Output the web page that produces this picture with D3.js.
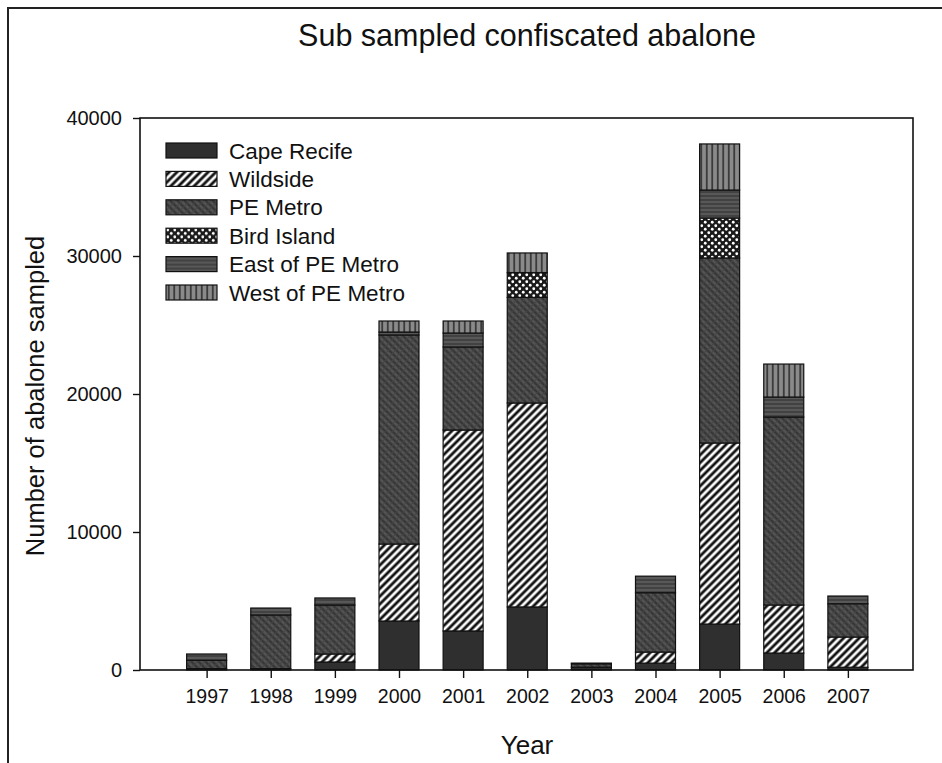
<!DOCTYPE html>
<html>
<head>
<meta charset="utf-8">
<script src="https://cdn.jsdelivr.net/npm/d3@7"></script>
<style>
  body { margin: 0; background: #fff; }
  text { font-family: "Liberation Sans", Arial, sans-serif; fill: #111; }
</style>
</head>
<body>
<div id="chart"></div>
<script>
// ===== DATA =====
const years = [1997, 1998, 1999, 2000, 2001, 2002, 2003, 2004, 2005, 2006, 2007];
const capeRecife = [100, 100, 580, 3550, 2830, 4570, 200, 500, 3330, 1230, 200];
const wildside   = [0, 0, 580, 5580, 14560, 14780, 0, 800, 13120, 3480, 2190];
const peMetro    = [600, 3890, 3550, 15150, 6020, 7650, 250, 4300, 13410, 13620, 2410];
const birdIsland = [0, 0, 0, 0, 0, 1800, 0, 0, 2890, 0, 0];
const eastPE     = [460, 500, 510, 210, 1010, 0, 50, 1200, 2030, 1450, 560];
const westPE     = [0, 0, 0, 800, 870, 1420, 0, 0, 3340, 2390, 0];
const seriesNames = ['Cape Recife', 'Wildside', 'PE Metro', 'Bird Island', 'East of PE Metro', 'West of PE Metro'];
const yTicks = [0, 10000, 20000, 30000, 40000];

const W = 942, H = 763;
const plot = { left: 140, right: 913, top: 118, bottom: 670 };
const FONT = '"Liberation Sans", Arial, sans-serif';

const svg = d3.select('#chart').append('svg')
  .attr('width', W)
  .attr('height', H);

const defs = svg.append('defs');

// --- fill patterns (one per series) ---
function hatch(id, bg, line, lineW, size, angle) {
  const p = defs.append('pattern')
    .attr('id', id)
    .attr('patternUnits', 'userSpaceOnUse')
    .attr('width', size).attr('height', size)
    .attr('patternTransform', `rotate(${angle})`);
  p.append('rect').attr('width', size).attr('height', size).attr('fill', bg);
  p.append('line')
    .attr('x1', size / 2).attr('y1', 0)
    .attr('x2', size / 2).attr('y2', size)
    .attr('stroke', line).attr('stroke-width', lineW);
  return p;
}

defs.append('pattern')
  .attr('id', 'pat-cape')
  .attr('patternUnits', 'userSpaceOnUse')
  .attr('width', 4).attr('height', 4)
  .append('rect').attr('width', 4).attr('height', 4).attr('fill', '#2f2f2f');

hatch('pat-wild', '#fff', '#111', 2.8, 5.5, 45);

const pe = hatch('pat-pe', '#545454', '#333', 2.2, 5, -45);
pe.append('line')
  .attr('x1', 0).attr('y1', 2.5).attr('x2', 5).attr('y2', 2.5)
  .attr('stroke', '#444').attr('stroke-width', 1);

const bird = defs.append('pattern')
  .attr('id', 'pat-bird')
  .attr('patternUnits', 'userSpaceOnUse')
  .attr('width', 7).attr('height', 7);
bird.append('rect').attr('width', 7).attr('height', 7).attr('fill', '#1a1a1a');
bird.append('circle').attr('cx', 1.75).attr('cy', 1.75).attr('r', 1.4).attr('fill', '#fff');
bird.append('circle').attr('cx', 5.25).attr('cy', 5.25).attr('r', 1.4).attr('fill', '#fff');

hatch('pat-east', '#424242', '#676767', 1.2, 4, 90);
hatch('pat-west', '#8a8a8a', '#222', 1.4, 5.5, 0);

const fills = ['url(#pat-cape)', 'url(#pat-wild)', 'url(#pat-pe)', 'url(#pat-bird)', 'url(#pat-east)', 'url(#pat-west)'];

// outer frame (runs off the right and bottom edges)
svg.append('rect')
  .attr('x', 8).attr('y', 8)
  .attr('width', 1000).attr('height', 900)
  .attr('fill', 'none')
  .attr('stroke', '#222')
  .attr('stroke-width', 2);

// ===== SCALES =====
const x = d3.scalePoint()
  .domain(years)
  .range([142.5, 912])
  .padding(1);

const y = d3.scaleLinear()
  .domain([0, 40000])
  .range([plot.bottom, plot.top]);

const barW = 40;

// ===== STACK =====
const table = years.map((yr, i) => ({
  year: yr,
  'Cape Recife': capeRecife[i],
  'Wildside': wildside[i],
  'PE Metro': peMetro[i],
  'Bird Island': birdIsland[i],
  'East of PE Metro': eastPE[i],
  'West of PE Metro': westPE[i]
}));

const stacked = d3.stack().keys(seriesNames)(table);

const layers = svg.append('g').selectAll('g')
  .data(stacked)
  .join('g')
  .attr('fill', (d, i) => fills[i]);

layers.selectAll('rect')
  .data(d => d.filter(s => s[1] - s[0] > 0))
  .join('rect')
  .attr('x', d => x(d.data.year) - barW / 2)
  .attr('y', d => y(d[1]))
  .attr('width', barW)
  .attr('height', d => y(d[0]) - y(d[1]))
  .attr('stroke', '#111')
  .attr('stroke-width', 1.2);

// ===== AXES =====
svg.append('rect')
  .attr('x', plot.left).attr('y', plot.top)
  .attr('width', plot.right - plot.left)
  .attr('height', plot.bottom - plot.top)
  .attr('fill', 'none')
  .attr('stroke', '#111')
  .attr('stroke-width', 1.6);

const yAxis = svg.append('g')
  .attr('transform', `translate(${plot.left},0)`)
  .call(d3.axisLeft(y).tickValues(yTicks).tickSize(7).tickPadding(11).tickFormat(d3.format('d')));
yAxis.select('.domain').remove();
yAxis.selectAll('line').attr('stroke', '#111').attr('stroke-width', 1.4);
yAxis.selectAll('text').attr('font-size', 20).attr('font-family', FONT).attr('fill', '#111');

const xAxis = svg.append('g')
  .attr('transform', `translate(0,${plot.bottom})`)
  .call(d3.axisBottom(x).tickSize(8).tickPadding(11).tickFormat(d3.format('d')));
xAxis.select('.domain').remove();
xAxis.selectAll('line').attr('stroke', '#111').attr('stroke-width', 1.4);
xAxis.selectAll('text').attr('font-size', 19.5).attr('font-family', FONT).attr('fill', '#111');

// ===== TITLES =====
svg.append('text')
  .attr('x', 527).attr('y', 46)
  .attr('text-anchor', 'middle')
  .attr('font-size', 30.5)
  .text('Sub sampled confiscated abalone');

svg.append('text')
  .attr('x', 527).attr('y', 754)
  .attr('text-anchor', 'middle')
  .attr('font-size', 26)
  .text('Year');

svg.append('text')
  .attr('transform', 'translate(44,396) rotate(-90)')
  .attr('text-anchor', 'middle')
  .attr('font-size', 25.5)
  .text('Number of abalone sampled');

// ===== LEGEND =====
const legend = svg.append('g').attr('transform', 'translate(166,143)');
const rowH = 28.4;
const item = legend.selectAll('g')
  .data(seriesNames)
  .join('g')
  .attr('transform', (d, i) => `translate(0,${i * rowH})`);

item.append('rect')
  .attr('width', 51).attr('height', 15)
  .attr('fill', (d, i) => fills[i])
  .attr('stroke', '#111')
  .attr('stroke-width', 1.2);

item.append('text')
  .attr('x', 63).attr('y', 15.5)
  .attr('font-size', 22.5)
  .text(d => d);
</script>
</body>
</html>
